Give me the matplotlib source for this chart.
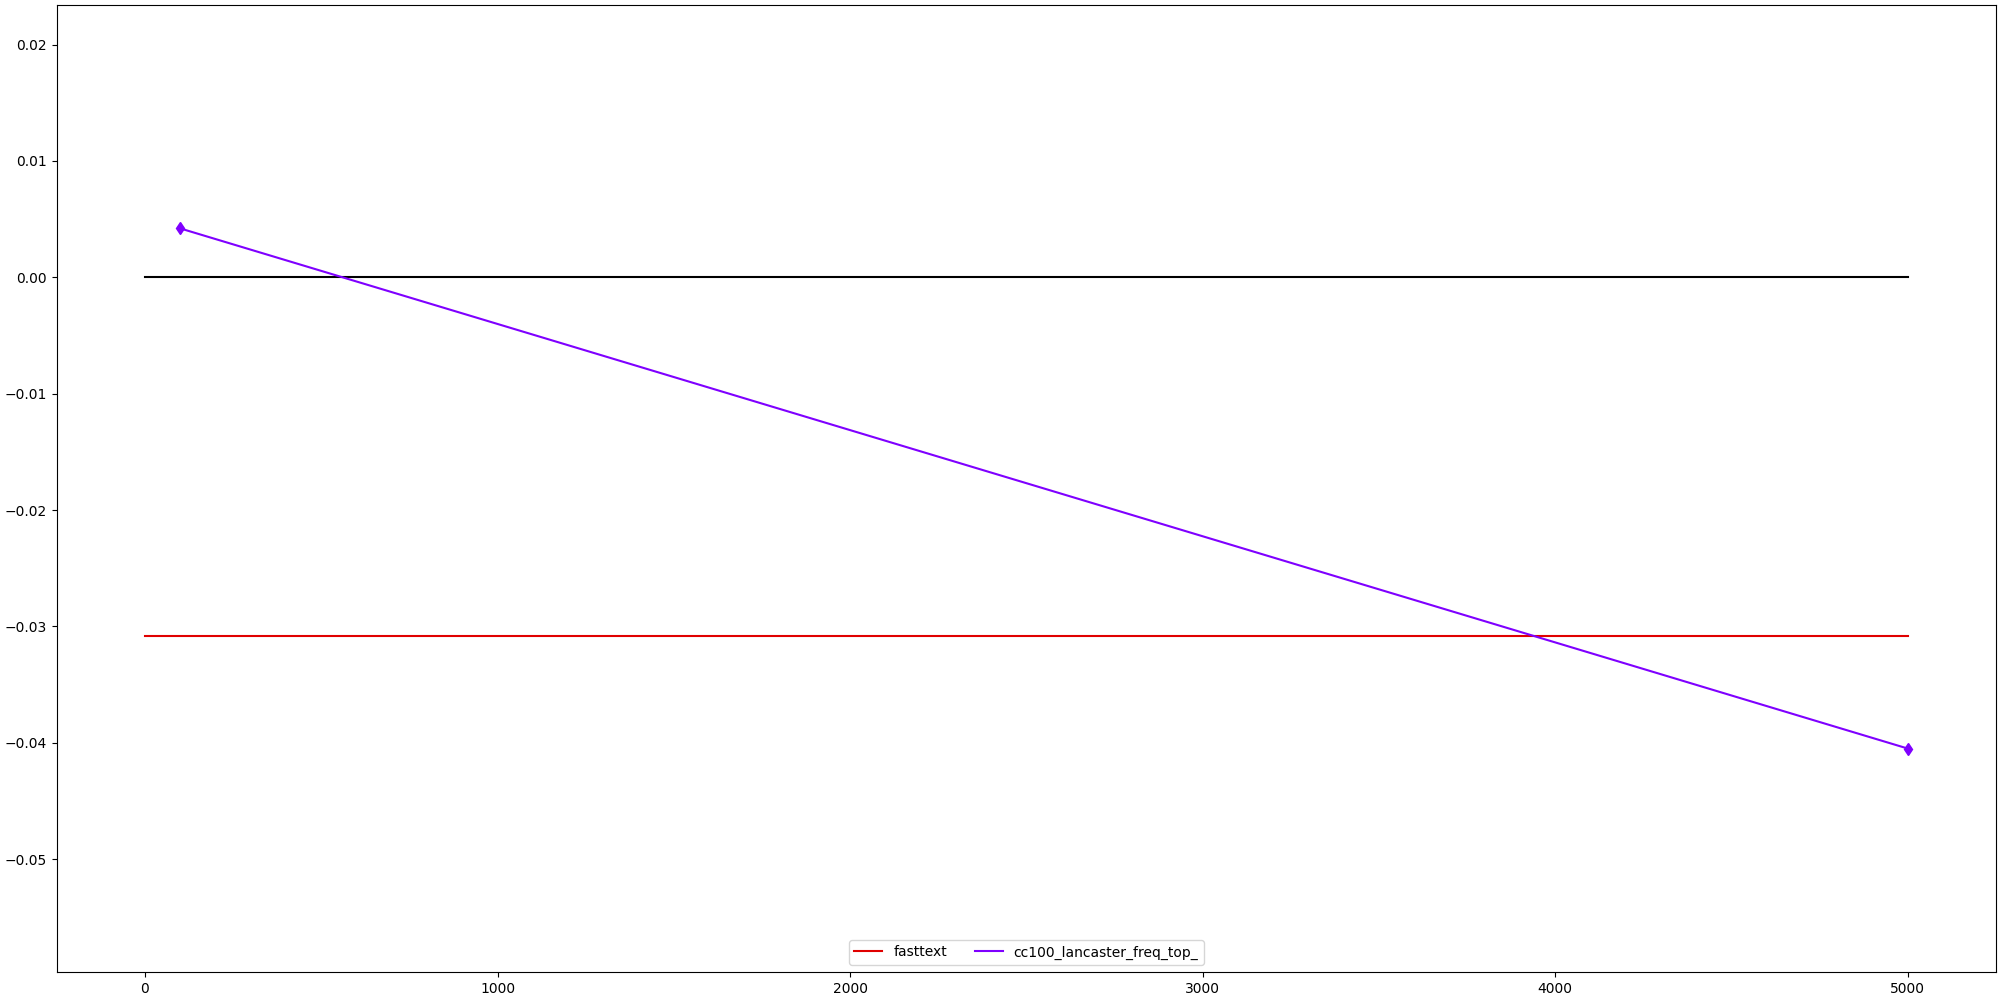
import matplotlib
matplotlib.use("Agg")
import matplotlib.pyplot as plt

x_range = [0, 5000]
baseline = [0.0, 0.0]
fasttext_value = -0.0308
series_name = "cc100_lancaster_freq_top_"
series_x = [100, 5000]
series_y = [0.0042, -0.0405]

fig = plt.figure(figsize=(20, 10), dpi=100)
ax = fig.add_axes([0.0284, 0.028, 0.9696, 0.967])

ax.plot(x_range, baseline, color="black")
ax.plot(x_range, [fasttext_value, fasttext_value], color="#e00000", label="fasttext")
ax.plot(series_x, series_y, color="#7f00ff", label=series_name)
ax.plot(series_x, series_y, linestyle="none", color="#7f00ff", marker="d", markersize=6)

ax.set_ylim(-0.0597, 0.0234)
ax.legend(loc="lower center", ncol=2)

fig.savefig("out.png", dpi=100)
